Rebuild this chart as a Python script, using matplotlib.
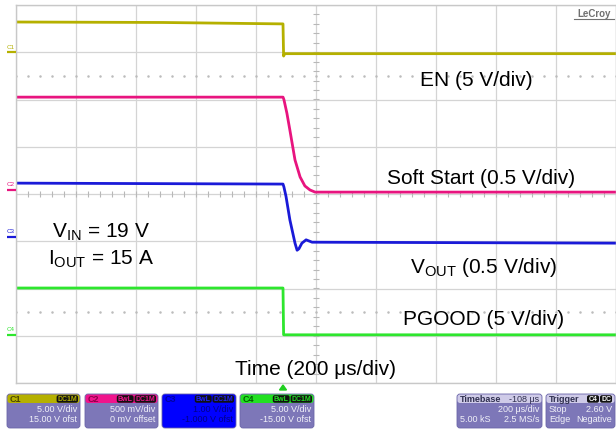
import numpy as np
import matplotlib
matplotlib.use("Agg")
import matplotlib.pyplot as plt
from matplotlib.patches import FancyBboxPatch, Polygon

plt.rcParams['font.family'] = ['Liberation Sans', 'DejaVu Sans']
plt.rcParams['mathtext.fontset'] = 'custom'
plt.rcParams['mathtext.rm'] = 'Liberation Sans'
plt.rcParams['mathtext.it'] = 'Liberation Sans:italic'
plt.rcParams['mathtext.bf'] = 'Liberation Sans:bold'

# ---------------- data (time in us relative to EN falling edge, level in screen divisions)
en_t = [-890, -400, 0, 2, 6, 1110]
en_v = [3.64, 3.63, 3.60, 2.92, 2.97, 2.97]

ss_t = [-890, 0, 3, 13, 23, 40, 57, 73, 90, 107, 1110]
ss_v = [2.05, 2.05, 2.0, 1.71, 1.35, 0.72, 0.36, 0.17, 0.085, 0.04, 0.04]

vout_t = [-890, 0, 3, 10, 23, 40, 47, 53, 63, 77, 97, 1110]
vout_v = [0.23, 0.21, 0.15, -0.05, -0.55, -1.04, -1.19, -1.16, -1.04, -0.97, -1.02, -1.04]

pg_t = [-890, 0, 2, 1110]
pg_v = [-1.99, -1.99, -2.98, -2.98]

traces = [
    ("C1", en_t, en_v, "#b5b000", 3.0),
    ("C2", ss_t, ss_v, "#e8147f", 0.085),
    ("C3", vout_t, vout_v, "#1a1ad8", -0.91),
    ("C4", pg_t, pg_v, "#2ee62e", -2.98),
]

labels = [
    ("EN (5 V/div)", 420, 86),
    ("Soft Start (0.5 V/div)", 387, 184),
    ("V$_{\\mathrm{OUT}}$ (0.5 V/div)", 410, 273),
    ("PGOOD (5 V/div)", 403, 325),
    ("Time (200 \u03bcs/div)", 235, 375),
    ("V$_{\\mathrm{IN}}$ = 19 V", 52, 238),
    ("I$_{\\mathrm{OUT}}$ = 15 A", 48, 265),
]

W, H = 616, 429
fig = plt.figure(figsize=(W / 100, H / 100), dpi=100)
fig.patch.set_facecolor("white")

ax = fig.add_axes([16 / W, 1 - 383 / H, 600 / W, 378 / H])
ax.set_xlim(-890, 1110)
ax.set_ylim(-4, 4)
ax.set_xticks(np.arange(-890, 1111, 200))
ax.set_yticks(np.arange(-4, 5, 1))
ax.tick_params(length=0, labelbottom=False, labelleft=False)
ax.grid(True, color="#d4d4d4", lw=0.9)
for s in ax.spines.values():
    s.set_color("#c8c8c8")
    s.set_linewidth(1.0)

# center tick marks
minor_x = np.arange(-890, 1111, 40)
ax.plot(minor_x, np.zeros_like(minor_x), ls="none", marker="|", ms=4, mew=0.8, color="#b8b8b8")
minor_y = np.arange(-4, 4.01, 0.2)
ax.plot(np.full_like(minor_y, 110), minor_y, ls="none", marker="_", ms=4, mew=0.8, color="#b8b8b8")
for yy in (2.5, -2.5):
    ax.plot(minor_x, np.full_like(minor_x, yy, dtype=float), ls="none", marker="o", ms=0.8, color="#bcbcbc")

for name, t, v, c, lvl in traces:
    ax.plot(t, v, color=c, lw=2.0, solid_joinstyle="round")

# overlay in pixel coordinates
ov = fig.add_axes([0, 0, 1, 1], zorder=5)
ov.set_xlim(0, W)
ov.set_ylim(H, 0)
ov.axis("off")
ov.patch.set_alpha(0)

def py(div):
    return 194 - div * 47.25

for name, t, v, c, lvl in traces:
    y = py(lvl)
    ov.plot([7, 16], [y, y], color=c, lw=1.6, solid_capstyle="butt")
    ov.text(11, y - 2.5, name, fontsize=4.5, color=c, ha="center", va="bottom")

for txt, x, y in labels:
    ov.text(x, y, txt, fontsize=15, color="black", ha="left", va="baseline")

ov.text(594, 17, "LeCroy", fontsize=7, color="#707070", ha="center", va="baseline", weight="bold")
ov.plot([574, 614], [19, 19], color="#707070", lw=0.8)

# trigger marker
ov.add_patch(Polygon([[279.5, 390], [286.5, 390], [283, 385]], closed=True, color="#20d020"))

body = "#7d77b8"
txtc = "#f0f0f8"

def box(x0, x1, hdr_color, hdr_txt, hdr_txtc, badges, badge_txtc, rows, full=None, rowc=txtc):
    y0, y1 = 394, 428
    bc = full if full else body
    ov.add_patch(FancyBboxPatch((x0, y0), x1 - x0, y1 - y0, boxstyle="round,pad=0,rounding_size=3",
                                fc=bc, ec="#6a64a8", lw=0.6))
    if hdr_color:
        ov.add_patch(FancyBboxPatch((x0 + 0.5, y0 + 0.5), x1 - x0 - 1, 8.5,
                                    boxstyle="round,pad=0,rounding_size=2.5", fc=hdr_color, ec="none"))
    ov.text(x0 + 3, y0 + 5, hdr_txt, fontsize=6.5, color=hdr_txtc, ha="left", va="center", weight="bold")
    bx = x1 - 2
    for b in reversed(badges):
        w = 4.6 * len(b) + 3
        ov.add_patch(FancyBboxPatch((bx - w, y0 + 1.2), w, 7.5, boxstyle="round,pad=0,rounding_size=2",
                                    fc="#111111", ec="none"))
        ov.text(bx - w / 2, y0 + 5.1, b, fontsize=5, color=badge_txtc, ha="center", va="center", weight="bold")
        bx -= w + 1
    for i, (left, right) in enumerate(rows):
        yy = y0 + 16 + i * 10
        if left:
            ov.text(x0 + 3, yy, left, fontsize=6.5, color=rowc, ha="left", va="center")
        if right:
            ov.text(x1 - 3, yy, right, fontsize=6.5, color=rowc, ha="right", va="center")

box(7, 80, "#b5b000", "C1", "#4a4600", ["DC1M"], "#b5b000",
    [("", "5.00 V/div"), ("", "15.00 V ofst")])
box(85, 158, "#f0148c", "C2", "#8a0048", ["BwL", "DC1M"], "#f0148c",
    [("", "500 mV/div"), ("", "0 mV offset")])
box(162, 236, None, "C3", "#0000a0", ["BwL", "DC1M"], "#2020ff",
    [("", "1.00 V/div"), ("", "-1.000 V ofst")], full="#0000ff", rowc="#00008a")
box(240, 314, "#22e022", "C4", "#006000", ["BwL", "DC1M"], "#22e022",
    [("", "5.00 V/div"), ("", "-15.00 V ofst")])
box(457, 542, "#cfcbe8", "Timebase", "#303050", [], "white",
    [("", "200 \u03bcs/div"), ("5.00 kS", "2.5 MS/s")])
ov.text(539, 399, "-108 \u03bcs", fontsize=6.5, color="#303050", ha="right", va="center")
box(546, 615, "#cfcbe8", "Trigger", "#303050", [], "white",
    [("Stop", "2.60 V"), ("Edge", "Negative")])
for b, bx0 in (("C4", 587), ("DC", 600)):
    ov.add_patch(FancyBboxPatch((bx0, 395.2), 12, 7.5, boxstyle="round,pad=0,rounding_size=2",
                                fc="#111111", ec="none"))
    ov.text(bx0 + 6, 399.1, b, fontsize=5, color="white", ha="center", va="center", weight="bold")

fig.savefig("out.png", dpi=100)
